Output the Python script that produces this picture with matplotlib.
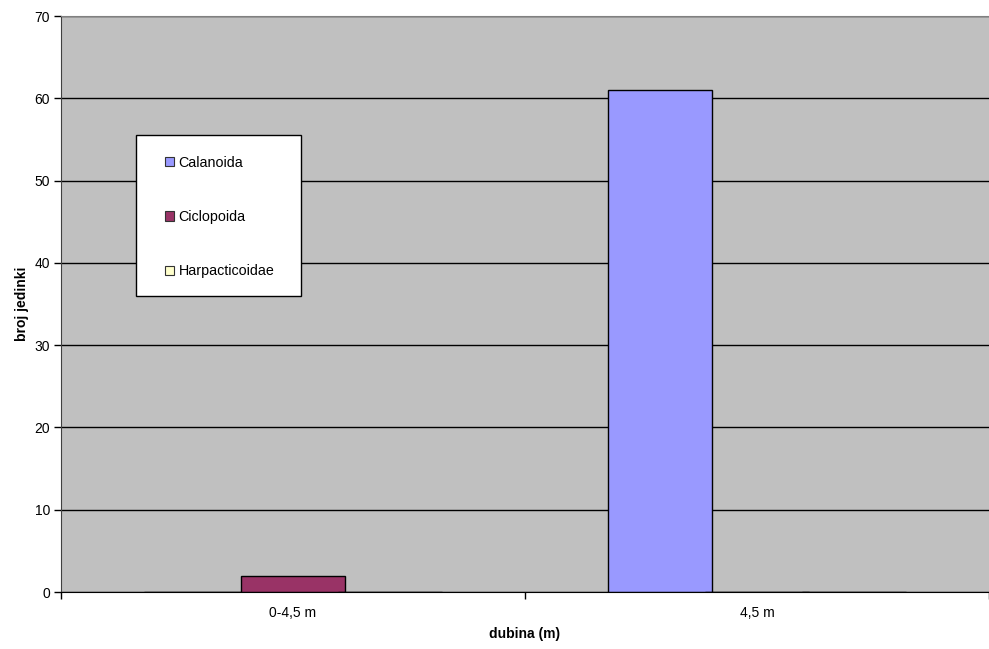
import matplotlib.pyplot as plt
from matplotlib.patches import Patch, Rectangle

plt.rcParams['font.family'] = ['Liberation Sans', 'DejaVu Sans']

categories = ['0-4,5 m', '4,5 m']
series = ['Calanoida', 'Ciclopoida', 'Harpacticoidae']
calanoida = [0, 61]
ciclopoida = [2, 0]
harpacticoidae = [0, 0]
colors = ['#9999FF', '#993366', '#FFFFCC']

values = [calanoida, ciclopoida, harpacticoidae]

fig = plt.figure(figsize=(9.89, 6.49), dpi=100)
ax = fig.add_axes([0.0617, 0.0878, 0.9383, 0.8875])
ax.set_facecolor('#C0C0C0')

w = 0.224
offsets = [-0.21, 0, 0.21]
for i, name in enumerate(series):
    xs = [j + offsets[i] for j in range(len(categories))]
    ax.bar(xs, values[i], width=w, color=colors[i], edgecolor='black',
           linewidth=1, zorder=3)

ax.set_xlim(-0.5, 1.5)
ax.set_ylim(0, 70)
ax.set_yticks(range(0, 71, 10))
ax.yaxis.grid(True, color='black', linewidth=1, zorder=1)
ax.set_axisbelow(True)
ax.tick_params(axis='y', length=5, width=1, labelsize=10, pad=3)

ax.set_xticks(range(len(categories)))
ax.set_xticklabels(categories)
ax.set_xticks([-0.5, 0.5, 1.5], minor=True)
ax.tick_params(axis='x', which='major', length=0, labelsize=10, pad=10)
ax.tick_params(axis='x', which='minor', length=5, width=1)

ax.spines['top'].set_color('#808080')
ax.spines['right'].set_visible(False)
ax.spines['left'].set_color('#404040')
ax.spines['bottom'].set_color('black')
ax.spines['bottom'].set_zorder(4)

ax.set_xlabel('dubina (m)', fontsize=10, fontweight='bold', labelpad=5)
ax.set_ylabel('broj jedinki', fontsize=10, fontweight='bold', labelpad=4)

# legend box
fig.patches.append(Rectangle((136 / 989, 1 - 296 / 649), 165 / 989, 161 / 649,
                             transform=fig.transFigure, facecolor='white',
                             edgecolor='black', linewidth=1, zorder=5))
handles = [Patch(facecolor=c, edgecolor='#333333', linewidth=0.8) for c in colors]
leg = fig.legend(handles, series, loc='upper left',
                 bbox_to_anchor=(165 / 989, 1 - 156 / 649), frameon=False,
                 fontsize=10.3, handlelength=0.6, handleheight=0.6,
                 handletextpad=0.35, labelspacing=2.8, borderaxespad=0,
                 borderpad=0)
leg.set_zorder(6)

fig.savefig('out.png', dpi=100)
